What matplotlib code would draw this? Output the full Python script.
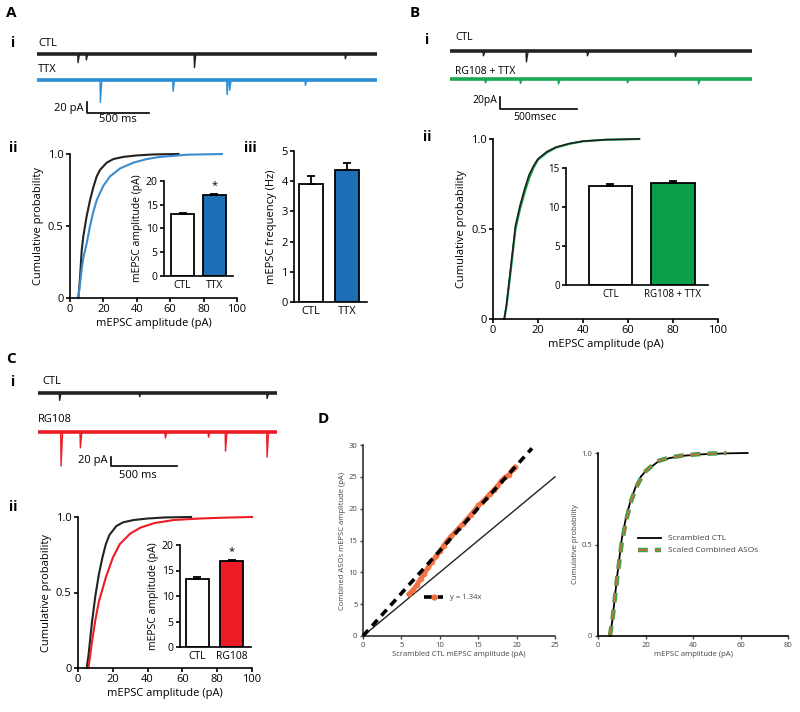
import matplotlib
matplotlib.use("Agg")
import matplotlib.pyplot as plt
from matplotlib.lines import Line2D

plt.rcParams['font.family'] = ['Open Sans', 'DejaVu Sans']
plt.rcParams['font.size'] = 8
plt.rcParams['axes.linewidth'] = 1.2
plt.rcParams['xtick.major.width'] = 1.2
plt.rcParams['ytick.major.width'] = 1.2
plt.rcParams['xtick.major.size'] = 3
plt.rcParams['ytick.major.size'] = 3
plt.rcParams['xtick.major.pad'] = 1.5
plt.rcParams['ytick.major.pad'] = 1.5

# ---- data ----
# traces: event times (ms) and amplitudes (pA)
A_TRACE_MS = 2740
A_CTL_T = [328, 395, 1266, 2482]
A_CTL_A = [16, 11, 25, 9]
A_TTX_T = [508, 1094, 1529, 1550, 2160]
A_TTX_A = [40, 20, 26, 18, 9]

B_TRACE_MS = 1960
B_CTL_T = [214, 493, 889, 1460]
B_CTL_A = [8, 18, 8, 9]
B_RG_T = [227, 454, 701, 1149, 1610]
B_RG_A = [6, 7, 8, 6, 8]

C_TRACE_MS = 1811
C_CTL_T = [161, 767, 1733]
C_CTL_A = [16, 8, 12]
C_RG_T = [172, 318, 962, 1289, 1418, 1733]
C_RG_A = [73, 34, 13, 11, 41, 54]

SCALE_PA = 20
SCALE_MS = 500

# cumulative distributions
A_CTL_AMP = [5, 6, 7, 8, 9, 10, 12, 14, 16, 18, 22, 26, 32, 40, 50, 65]
A_CTL_CDF = [0, 0.14, 0.33, 0.43, 0.5, 0.57, 0.68, 0.77, 0.845, 0.89, 0.94, 0.965, 0.98, 0.99, 0.997, 1.0]
A_TTX_AMP = [5, 6, 7, 8, 10, 12, 14, 16, 20, 24, 30, 38, 46, 54, 70, 91]
A_TTX_CDF = [0, 0.1, 0.2, 0.28, 0.38, 0.5, 0.6, 0.68, 0.78, 0.845, 0.9, 0.94, 0.965, 0.98, 0.995, 1.0]

B_AMP = [5, 6, 8, 10, 12, 14, 16, 18, 20, 24, 28, 34, 40, 50, 65]
B_CTL_CDF = [0, 0.08, 0.3, 0.52, 0.63, 0.72, 0.8, 0.85, 0.89, 0.93, 0.955, 0.975, 0.988, 0.996, 1.0]
B_RG_CDF = [0, 0.07, 0.28, 0.5, 0.61, 0.7, 0.78, 0.84, 0.885, 0.925, 0.952, 0.973, 0.987, 0.996, 1.0]

C_CTL_AMP = [5, 6, 8, 10, 12, 14, 16, 18, 22, 26, 32, 40, 50, 65]
C_CTL_CDF = [0, 0.08, 0.3, 0.48, 0.62, 0.73, 0.82, 0.88, 0.94, 0.965, 0.98, 0.99, 0.997, 1.0]
C_RG_AMP = [6, 8, 10, 12, 14, 16, 20, 24, 30, 36, 44, 55, 70, 85, 100]
C_RG_CDF = [0, 0.17, 0.32, 0.44, 0.52, 0.6, 0.73, 0.82, 0.89, 0.93, 0.96, 0.98, 0.99, 0.996, 1.0]

D_CTL_AMP = [5, 6, 8, 10, 12, 14, 16, 18, 20, 25, 30, 36, 44, 54, 63]
D_CTL_CDF = [0, 0.08, 0.32, 0.53, 0.66, 0.75, 0.82, 0.87, 0.9, 0.95, 0.972, 0.985, 0.993, 0.998, 1.0]
D_ASO_AMP = [5, 6, 8, 10, 12, 14, 16, 18, 20, 25, 30, 36, 44, 54]
D_ASO_CDF = [0, 0.08, 0.31, 0.51, 0.64, 0.74, 0.81, 0.86, 0.9, 0.955, 0.975, 0.987, 0.995, 1.0]

# bar insets (mean, sem)
A_AMP_LABELS = ['CTL', 'TTX']
A_AMP_MEAN = [13.0, 17.0]
A_AMP_SEM = [0.2, 0.25]
A_FREQ_MEAN = [3.9, 4.38]
A_FREQ_SEM = [0.28, 0.22]
B_LABELS = ['CTL', 'RG108 + TTX']
B_MEAN = [12.7, 13.1]
B_SEM = [0.2, 0.25]
C_LABELS = ['CTL', 'RG108']
C_MEAN = [13.4, 16.9]
C_SEM = [0.25, 0.25]

# D: quantile plot
D_QQ_CTL = [6.0, 6.5, 7.0, 7.5, 8.0, 8.5, 9.0, 9.5, 10.0, 10.5, 11.0, 11.5, 12.0, 12.5, 13.0,
            13.5, 14.0, 14.5, 15.0, 15.5, 16.0, 16.5, 17.0, 17.5, 18.0, 18.5, 19.0, 19.5, 19.8]
D_QQ_ASO = [6.6, 7.2, 8.0, 9.0, 9.8, 10.8, 11.7, 12.5, 13.3, 14.2, 15.0, 15.7, 16.3, 17.0, 17.6,
            18.3, 19.0, 19.7, 20.5, 21.0, 21.6, 22.3, 22.9, 23.5, 24.4, 24.9, 25.3, 26.2, 26.5]
D_SLOPE = 1.34
D_FIT_X = [0, 22]
D_UNITY_X = [0, 25]

BLUE = '#1a6fb5'
BLUE_LINE = '#3a8ccf'
GREEN = '#0aa04a'
RED = '#ec1c24'
ORANGE = '#f26b3a'

W, H = 800, 712
fig = plt.figure(figsize=(8, 7.12), dpi=100)


def add_ax(l, t, r, b):
    return fig.add_axes([l / W, 1 - b / H, (r - l) / W, (b - t) / H])


def ftext(x, y, s, **kw):
    kw.setdefault('va', 'center')
    fig.text(x / W, 1 - y / H, s, **kw)


def clean(ax):
    ax.spines['top'].set_visible(False)
    ax.spines['right'].set_visible(False)


def draw_trace(ax, base, times, amps, total, color):
    # baseline band plus thin downward events
    ax.plot([0, total], [base, base], color=color, lw=2.6, solid_capstyle='butt')
    for t, a in zip(times, amps):
        ax.plot([t, t + 3, t + 14], [base, base - a, base], color=color, lw=1.0)


def scale_bar(ax, x0, y0):
    ax.plot([x0, x0, x0 + SCALE_MS], [y0 + SCALE_PA, y0, y0], color='k', lw=1.2)


def cdf_axes(ax, xmax=100, xstep=20):
    clean(ax)
    ax.set_xlim(0, xmax)
    ax.set_ylim(0, 1)
    ax.set_xticks(range(0, xmax + 1, xstep))
    ax.set_yticks([0, 0.5, 1.0])
    ax.set_yticklabels(['0', '0.5', '1.0'])
    ax.set_xlabel('mEPSC amplitude (pA)', labelpad=2)
    ax.set_ylabel('Cumulative probability', labelpad=3)


def bar_inset(ax, labels, mean, sem, color, ymax, ystep, xlim, width, fs=7.5):
    clean(ax)
    x = range(len(mean))
    ax.bar(x, mean, width=width, color=['white', color], edgecolor='k', linewidth=1.3,
           yerr=[[0] * len(sem), sem], error_kw=dict(elinewidth=1.3, capsize=3, capthick=1.3))
    ax.set_xlim(*xlim)
    ax.set_ylim(0, ymax)
    ax.set_yticks(range(0, ymax + 1, ystep))
    ax.set_xticks(list(x))
    ax.set_xticklabels(labels)
    ax.tick_params(axis='x', length=0, pad=3, labelsize=fs)
    ax.tick_params(axis='y', labelsize=fs)


# ---- panel labels ----
for x, y, s in [(11, 13, 'A'), (415, 13, 'B'), (11, 359, 'C'), (323, 419, 'D')]:
    ftext(x, y, s, fontsize=11, fontweight='bold', ha='center')
for x, y, s in [(13, 43, 'i'), (13, 148, 'ii'), (250, 148, 'iii'), (427, 40, 'i'), (427, 137, 'ii'),
                (13, 382, 'i'), (13, 507, 'ii')]:
    ftext(x, y, s, fontsize=10, fontweight='bold', ha='center')

# ---- A i traces ----
ax = add_ax(37, 45, 377, 125)
ax.axis('off')
ax.set_xlim(0, A_TRACE_MS)
ax.set_ylim(-145, 0)
draw_trace(ax, -16, A_CTL_T, A_CTL_A, A_TRACE_MS, '#222222')
draw_trace(ax, -64, A_TTX_T, A_TTX_A, A_TRACE_MS, '#2a8fd6')
scale_bar(ax, 403, -124)
ftext(38, 43, 'CTL', fontsize=8)
ftext(38, 70, 'TTX', fontsize=8)
ftext(84, 108, '20 pA', fontsize=8, ha='right')
ftext(118, 120, '500 ms', fontsize=8, ha='center')

# ---- A ii ----
ax = add_ax(70, 154, 237, 298)
cdf_axes(ax)
ax.plot(A_CTL_AMP, A_CTL_CDF, color='#222222', lw=1.5, clip_on=False)
ax.plot(A_TTX_AMP, A_TTX_CDF, color=BLUE_LINE, lw=1.5, clip_on=False)

ax = add_ax(164, 181, 233, 276)
bar_inset(ax, A_AMP_LABELS, A_AMP_MEAN, A_AMP_SEM, BLUE, 20, 5, (-0.59, 1.6), 0.73)
ax.set_ylabel('mEPSC amplitude (pA)', fontsize=7.5, labelpad=2)
ax.text(1, 18.6, '*', ha='center', fontsize=8)

# ---- A iii ----
ax = add_ax(294, 151, 367, 302)
bar_inset(ax, A_AMP_LABELS, A_FREQ_MEAN, A_FREQ_SEM, BLUE, 5, 1, (-0.47, 1.56), 0.67, fs=8)
ax.set_ylabel('mEPSC frequency (Hz)', labelpad=3)

# ---- B i traces ----
ax = add_ax(450, 42, 752, 125)
ax.axis('off')
ax.set_xlim(0, B_TRACE_MS)
ax.set_ylim(-138, 0)
draw_trace(ax, -15, B_CTL_T, B_CTL_A, B_TRACE_MS, '#222222')
draw_trace(ax, -62, B_RG_T, B_RG_A, B_TRACE_MS, '#1aa852')
scale_bar(ax, 324, -112)
ftext(455, 38, 'CTL', fontsize=7.5)
ftext(455, 71, 'RG108 + TTX', fontsize=7.5)
ftext(497, 101, '20pA', fontsize=7.5, ha='right')
ftext(535, 118, '500msec', fontsize=7.5, ha='center')

# ---- B ii ----
ax = add_ax(493, 139, 718, 319)
cdf_axes(ax)
ax.plot(B_AMP, B_RG_CDF, color=GREEN, lw=1.5, clip_on=False)
ax.plot(B_AMP, B_CTL_CDF, color='#222222', lw=1.2, clip_on=False)

ax = add_ax(566, 168, 708, 285)
bar_inset(ax, B_LABELS, B_MEAN, B_SEM, GREEN, 15, 5, (-0.71, 1.56), 0.69, fs=7)

# ---- C i traces ----
ax = add_ax(38, 385, 277, 480)
ax.axis('off')
ax.set_xlim(0, C_TRACE_MS)
ax.set_ylim(-204, 0)
draw_trace(ax, -17, C_CTL_T, C_CTL_A, C_TRACE_MS, '#222222')
draw_trace(ax, -101, C_RG_T, C_RG_A, C_TRACE_MS, RED)
scale_bar(ax, 553, -174)
ftext(42, 381, 'CTL', fontsize=8)
ftext(38, 420, 'RG108', fontsize=8)
ftext(108, 461, '20 pA', fontsize=8, ha='right')
ftext(138, 476, '500 ms', fontsize=8, ha='center')

# ---- C ii ----
ax = add_ax(78, 517, 252, 668)
cdf_axes(ax)
ax.plot(C_CTL_AMP, C_CTL_CDF, color='#222222', lw=1.5, clip_on=False)
ax.plot(C_RG_AMP, C_RG_CDF, color=RED, lw=1.5, clip_on=False)

ax = add_ax(180, 545, 251, 647)
bar_inset(ax, C_LABELS, C_MEAN, C_SEM, RED, 20, 5, (-0.51, 1.57), 0.68)
ax.set_ylabel('mEPSC amplitude (pA)', fontsize=7.5, labelpad=2)
ax.text(1, 18.3, '*', ha='center', fontsize=8)

# ---- D left: quantile plot ----
ax = add_ax(363, 445, 555, 636)
clean(ax)
ax.spines['left'].set_color('#333333')
ax.spines['bottom'].set_color('#333333')
ax.set_xlim(0, 25)
ax.set_ylim(0, 30)
ax.set_xticks(range(0, 26, 5))
ax.set_yticks(range(0, 31, 5))
ax.tick_params(labelsize=5.5, colors='#444444', width=1, length=2.5)
ax.plot(D_UNITY_X, D_UNITY_X, color='#222222', lw=1, clip_on=False)
ax.plot(D_QQ_CTL, D_QQ_ASO, color=ORANGE, lw=3.5, marker='o', ms=3, mfc='none', mew=1,
        alpha=0.9, zorder=2)
ax.plot(D_FIT_X, [D_SLOPE * v for v in D_FIT_X], color='k', lw=2.6, dashes=(2.2, 1.6),
        clip_on=False, zorder=3)
ax.set_xlabel('Scrambled CTL mEPSC amplitude (pA)', fontsize=5.5, color='#444444', labelpad=2)
ax.set_ylabel('Combined ASOs mEPSC amplitude (pA)', fontsize=5.5, color='#444444', labelpad=2)
h = (Line2D([], [], color='k', lw=2.6, dashes=(2.2, 1.6)),
     Line2D([], [], color=ORANGE, marker='o', ms=3.5, ls=''))
ax.legend([h], ['y = 1.34x'], loc='center left', bbox_to_anchor=(0.28, 0.2), frameon=False,
          fontsize=5.5, handlelength=2.6, labelcolor='#444444')

# ---- D right: scaled cumulative ----
ax = add_ax(598, 453, 788, 636)
clean(ax)
ax.set_xlim(0, 80)
ax.set_ylim(0, 1)
ax.set_xticks(range(0, 81, 20))
ax.set_yticks([0, 0.5, 1.0])
ax.set_yticklabels(['0', '0.5', '1.0'])
ax.tick_params(labelsize=5.5, colors='#444444', width=1, length=2.5)
ax.plot(D_CTL_AMP, D_CTL_CDF, color='k', lw=1.3, clip_on=False)
ax.plot(D_ASO_AMP, D_ASO_CDF, color='#3aa04a', lw=3.2, dashes=(2.2, 1.6), clip_on=False)
ax.plot(D_ASO_AMP, D_ASO_CDF, color='#c9703a', lw=1.2, dashes=(5.8, 4.3), clip_on=False)
ax.set_xlabel('mEPSC amplitude (pA)', fontsize=5.5, color='#444444', labelpad=2)
ax.set_ylabel('Cumulative probability', fontsize=5.5, color='#444444', labelpad=2)
h1 = Line2D([], [], color='k', lw=1.3)
h2 = (Line2D([], [], color='#3aa04a', lw=3.2, dashes=(2.2, 1.6)),
      Line2D([], [], color='#c9703a', lw=1.2, dashes=(5.8, 4.3)))
ax.legend([h1, h2], ['Scrambled CTL', 'Scaled Combined ASOs'], loc='center left',
          bbox_to_anchor=(0.17, 0.5), frameon=False, fontsize=6, handlelength=2.8,
          labelcolor='#444444')

fig.savefig('out.png', dpi=100)
